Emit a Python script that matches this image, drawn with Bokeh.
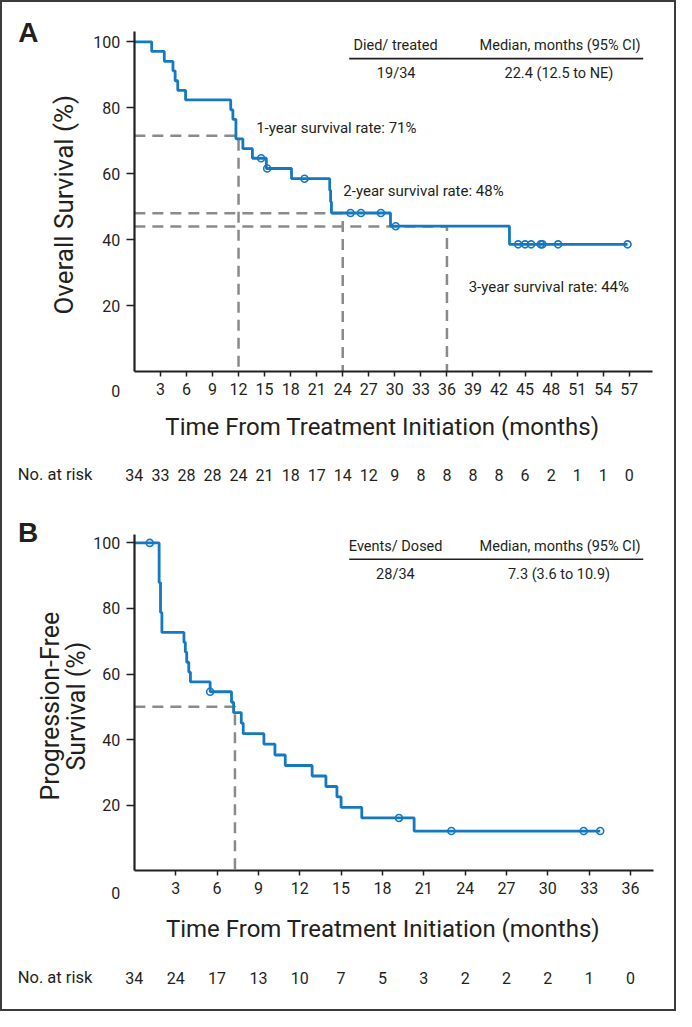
import math
from bokeh.plotting import figure
from bokeh.models import Range1d, FixedTicker, Label
from bokeh.layouts import column
from bokeh.embed import file_html
from bokeh.resources import INLINE

# ---------------- Panel A: overall survival ----------------
os_time = [0, 2.0, 3.45, 4.45, 4.7, 5.0, 5.9, 11.1, 11.35, 11.7, 12.5, 13.6,
           15.2, 18.1, 22.5, 22.6, 22.7, 29.5, 43.2, 56.8]
os_surv = [100, 97.1, 94.1, 91.2, 88.2, 85.3, 82.4, 79.4, 76.5, 70.6, 67.6, 64.7,
           61.6, 58.5, 55.0, 51.5, 48.1, 44.1, 38.6, 38.6]
os_cens_time = [14.6, 15.3, 19.6, 24.9, 26.1, 28.4, 30.1, 44.2, 45.0, 45.7,
                46.8, 47.0, 48.8, 56.8]
os_cens_surv = [64.7, 61.6, 58.5, 48.1, 48.1, 48.1, 44.1, 38.6, 38.6, 38.6,
                38.6, 38.6, 38.6, 38.6]
os_land_month = [12, 24, 36]
os_land_rate = [71.5, 48.0, 44.0]
os_land_text = ["1-year survival rate: 71%", "2-year survival rate: 48%",
                "3-year survival rate: 44%"]
os_xticks = [3, 6, 9, 12, 15, 18, 21, 24, 27, 30, 33, 36, 39, 42, 45, 48, 51, 54, 57]
os_risk_month = [0, 3, 6, 9, 12, 15, 18, 21, 24, 27, 30, 33, 36, 39, 42, 45, 48, 51, 54, 57]
os_at_risk = [34, 33, 28, 28, 24, 21, 18, 17, 14, 12, 9, 8, 8, 8, 8, 6, 2, 1, 1, 0]
os_table_head = ["Died/ treated", "Median, months (95% CI)"]
os_table_row = ["19/34", "22.4 (12.5 to NE)"]

# ---------------- Panel B: progression-free survival ----------------
pfs_time = [0, 1.8, 1.9, 2.0, 3.6, 3.7, 3.8, 3.95, 4.07, 5.5, 7.05, 7.2, 7.76, 7.9,
            9.4, 10.2, 10.95, 12.9, 13.9, 14.7, 15.0, 16.5, 20.3, 33.8]
pfs_surv = [100, 87.9, 78.8, 72.7, 69.7, 66.7, 63.6, 60.6, 57.6, 54.6, 51.4, 48.2,
            45.0, 41.8, 38.6, 35.3, 32.1, 28.9, 25.7, 22.5, 19.3, 16.1, 12.1, 12.1]
pfs_cens_time = [1.12, 5.5, 19.2, 23.0, 32.6, 33.8]
pfs_cens_surv = [100, 54.6, 16.1, 12.1, 12.1, 12.1]
pfs_land_month = [7.3]
pfs_land_rate = [50]
pfs_xticks = [3, 6, 9, 12, 15, 18, 21, 24, 27, 30, 33, 36]
pfs_risk_month = [0, 3, 6, 9, 12, 15, 18, 21, 24, 27, 30, 33, 36]
pfs_at_risk = [34, 24, 17, 13, 10, 7, 5, 3, 2, 2, 2, 1, 0]
pfs_table_head = ["Events/ Dosed", "Median, months (95% CI)"]
pfs_table_row = ["28/34", "7.3 (3.6 to 10.9)"]

yticks = [20, 40, 60, 80, 100]

FONT = "Roboto"
BOLD_FONT = "Liberation Sans"
TXT = "#231f20"
BLUE = "#1479c0"
DASH = "#8a8a8a"

# overall canvas (inside a 2px frame): 672 x 1007
SX = 676 / 692
SY = 1011 / 1027
W = 672


def label(p, x, y, text, size, align="center", baseline="middle", angle=0.0,
          font=FONT, bold=False):
    p.add_layout(Label(x=x, y=y, text=text, text_font=font,
                       text_font_size=f"{size}px", text_align=align,
                       text_baseline=baseline, angle=angle, text_color=TXT,
                       text_font_style="bold" if bold else "normal"))


def make_panel(top_c, bot_c, x0, ppm, y0, ppp, xmax, ymax, xticks):
    # x0/y0: reference pixel of the origin; ppm/ppp: reference px per unit
    x0c, ppmc = x0 * SX, ppm * SX
    y0c, pppc = y0 * SY, ppp * SY
    xr = Range1d((2 - x0c) / ppmc, (2 + W - x0c) / ppmc)
    yr = Range1d((y0c - bot_c) / pppc, (y0c - top_c) / pppc)
    h = bot_c - top_c
    p = figure(frame_width=W, frame_height=h, x_range=xr, y_range=yr,
               output_backend="svg", toolbar_location=None, min_border=0)
    p.grid.visible = False
    p.outline_line_color = None
    p.background_fill_color = "white"
    p.border_fill_color = "white"
    for ax in (p.xaxis[0], p.yaxis[0]):
        ax.fixed_location = 0
        ax.axis_line_width = 2.2
        ax.axis_line_color = TXT
        ax.major_tick_line_color = TXT
        ax.major_tick_line_width = 1.5
        ax.minor_tick_line_color = None
        ax.major_tick_in = 0
        ax.major_label_text_font = FONT
        ax.major_label_text_font_size = "16px"
        ax.major_label_text_color = TXT
    p.xaxis[0].bounds = (0, xmax)
    p.yaxis[0].bounds = (0, ymax)
    p.xaxis[0].ticker = FixedTicker(ticks=xticks)
    p.xaxis[0].major_tick_out = 5
    p.xaxis[0].major_label_standoff = 6
    p.yaxis[0].ticker = FixedTicker(ticks=yticks)
    p.yaxis[0].major_tick_out = 8
    p.yaxis[0].major_label_standoff = 6
    return p


def draw_km(p, t, s, ct, cs, lm, lr):
    xs = [[0, m, m] for m in lm]
    ys = [[r, r, 0] for r in lr]
    p.multi_line(xs, ys, line_color=DASH, line_width=2.5, line_dash="11 7")
    p.step(t, s, mode="after", line_color=BLUE, line_width=2.8)
    p.scatter(ct, cs, marker="circle", size=7, fill_color=None,
              line_color=BLUE, line_width=1.6)


# ---------- Panel A ----------
pA = make_panel(2, 512, 137, 8.889, 377, 3.35, 59.73, 103.0, os_xticks)
draw_km(pA, os_time, os_surv, os_cens_time, os_cens_surv, os_land_month, os_land_rate)
label(pA, -12.2, 102.7, "A", 28, font=BOLD_FONT, bold=True)
label(pA, -8.1, 50.6, "Overall Survival (%)", 26, baseline="alphabetic",
      angle=math.pi / 2)
label(pA, -2.14, -5.9, "0", 16)
label(pA, 28.57, -16.7, "Time From Treatment Initiation (months)", 24)
label(pA, -13.42, -31.25, "No. at risk", 16.5, align="left")
for m, n in zip(os_risk_month, os_at_risk):
    label(pA, m, -31.25, str(n), 16)
for dx, ty, txt, m in zip([2.03, 0.07, 2.5], [74.0, 54.9, 25.7], os_land_text, os_land_month):
    label(pA, m + dx, ty, txt, 15, align="left")
label(pA, 30.08, 98.9, os_table_head[0], 14.5)
label(pA, 49.03, 98.9, os_table_head[1], 14.5)
label(pA, 30.15, 90.4, os_table_row[0], 14.5)
label(pA, 48.9, 90.4, os_table_row[1], 14.5)
pA.line([24.75, 58.6], [94.9, 94.9], line_color=TXT, line_width=1.6)

# ---------- Panel B ----------
pB = make_panel(512, 1009, 137, 14.11, 884, 3.33, 37.63, 102.7, pfs_xticks)
draw_km(pB, pfs_time, pfs_surv, pfs_cens_time, pfs_cens_surv, pfs_land_month, pfs_land_rate)
label(pB, -7.7, 103.2, "B", 28, font=BOLD_FONT, bold=True)
label(pB, -6.05, 50.2, "Progression-Free", 25, baseline="alphabetic", angle=math.pi / 2)
label(pB, -4.16, 50.2, "Survival (%)", 25, baseline="alphabetic", angle=math.pi / 2)
label(pB, -1.35, -6.8, "0", 16)
label(pB, 18.04, -17.7, "Time From Treatment Initiation (months)", 24)
label(pB, -8.46, -32.7, "No. at risk", 16.5, align="left")
for m, n in zip(pfs_risk_month, pfs_at_risk):
    label(pB, m, -32.7, str(n), 16)
label(pB, 18.96, 98.8, pfs_table_head[0], 14.5)
label(pB, 30.89, 98.8, pfs_table_head[1], 14.5)
label(pB, 18.94, 90.3, pfs_table_row[0], 14.5)
label(pB, 30.81, 90.3, pfs_table_row[1], 14.5)
pB.line([15.59, 36.92], [95.0, 95.0], line_color=TXT, line_width=1.6)

layout = column(pA, pB, spacing=0, styles={"border": "2px solid #3c3c3c"})
open("out.html", "w").write(file_html(layout, INLINE))
